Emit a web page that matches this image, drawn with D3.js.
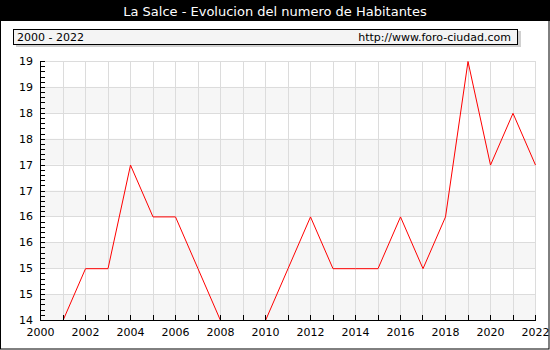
<!DOCTYPE html>
<html>
<head>
<meta charset="utf-8">
<script src="https://cdn.jsdelivr.net/npm/d3@7"></script>
<style>
  html, body { margin: 0; padding: 0; background: #fff; }
  svg { display: block; }
  text { font-family: "DejaVu Sans", Verdana, sans-serif; }
</style>
</head>
<body>
<svg id="chart" width="550" height="350"></svg>
<script>
const title = "La Salce - Evolucion del numero de Habitantes";
const subtitleLeft = "2000 - 2022";
const subtitleRight = "http://www.foro-ciudad.com";
const years = [2000, 2001, 2002, 2003, 2004, 2005, 2006, 2007, 2008, 2009, 2010, 2011, 2012, 2013, 2014, 2015, 2016, 2017, 2018, 2019, 2020, 2021, 2022];
const population = [14, 14, 15, 15, 17, 16, 16, 15, 14, 14, 14, 15, 16, 15, 15, 15, 16, 15, 16, 19, 17, 18, 17];
const xTickLabels = [2000, 2002, 2004, 2006, 2008, 2010, 2012, 2014, 2016, 2018, 2020, 2022];
const yTicks = [14, 14.5, 15, 15.5, 16, 16.5, 17, 17.5, 18, 18.5, 19];
const yTickLabels = ["14", "15", "15", "16", "16", "17", "17", "18", "18", "19", "19"];

const svg = d3.select("#chart");
const W = 550, H = 350;
const m = {left: 40, right: 535, top: 61, bottom: 320};

const x = d3.scaleLinear().domain([2000, 2022]).range([m.left, m.right]);
const y = d3.scaleLinear().domain([14, 19]).range([m.bottom, m.top]);

// background
svg.append("rect").attr("x", 0).attr("y", 0).attr("width", W).attr("height", H).attr("fill", "#fff");

// title band
svg.append("rect").attr("x", 0).attr("y", 0).attr("width", W).attr("height", 21).attr("fill", "#000");
svg.append("text").attr("x", W / 2).attr("y", 16).attr("text-anchor", "middle")
  .attr("fill", "#fff").attr("font-size", 13).text(title);

// subtitle box with shadow
svg.append("rect").attr("x", 16).attr("y", 31).attr("width", 505).attr("height", 16).attr("fill", "#d0d0d0");
svg.append("rect").attr("x", 13.5).attr("y", 29.5).attr("width", 504).attr("height", 15)
  .attr("fill", "#f4f4f4").attr("stroke", "#000").attr("stroke-width", 1);
svg.append("text").attr("x", 17).attr("y", 41).attr("font-size", 11).attr("fill", "#000").text(subtitleLeft);
svg.append("text").attr("x", 511).attr("y", 41).attr("text-anchor", "end").attr("font-size", 11).attr("fill", "#000").text(subtitleRight);

// alternating bands
const bands = [14, 15, 16, 17, 18];
svg.append("g").selectAll("rect").data(bands).join("rect")
  .attr("x", m.left).attr("width", m.right - m.left)
  .attr("y", d => y(d + 0.5)).attr("height", d => y(d) - y(d + 0.5))
  .attr("fill", "#f6f6f6");

// grid
const grid = svg.append("g").attr("stroke", "#dcdcdc").attr("stroke-width", 1).attr("shape-rendering", "crispEdges");
grid.selectAll("line.h").data(yTicks).join("line").attr("class", "h")
  .attr("x1", m.left).attr("x2", m.right).attr("y1", d => Math.round(y(d)) + 0.5).attr("y2", d => Math.round(y(d)) + 0.5);
grid.selectAll("line.v").data(years).join("line").attr("class", "v")
  .attr("y1", m.top).attr("y2", m.bottom).attr("x1", d => Math.round(x(d)) + 0.5).attr("x2", d => Math.round(x(d)) + 0.5);

// data line
const line = d3.line().x((d, i) => x(years[i])).y(d => y(d));
svg.append("path").datum(population).attr("d", line)
  .attr("transform", "translate(0.5,0.5)")
  .attr("fill", "none").attr("stroke", "#ff0000").attr("stroke-width", 1);

// x axis
const xAxis = d3.axisBottom(x).tickValues(xTickLabels).tickFormat(d3.format("d")).tickSize(0).tickPadding(8);
const gx = svg.append("g").attr("transform", `translate(0,${m.bottom})`).call(xAxis);
gx.select(".domain").attr("stroke", "#000").attr("stroke-width", 1).attr("shape-rendering", "crispEdges");
gx.selectAll("text").attr("font-size", 11).attr("font-family", "DejaVu Sans, Verdana, sans-serif").attr("fill", "#000");
// x ticks pointing up, every year
svg.append("g").selectAll("line").data(years).join("line")
  .attr("x1", d => Math.round(x(d)) + 0.5).attr("x2", d => Math.round(x(d)) + 0.5)
  .attr("y1", m.bottom).attr("y2", m.bottom - 5).attr("stroke", "#000");

// y axis
const yAxis = d3.axisLeft(y).tickValues(yTicks).tickFormat((d, i) => yTickLabels[i]).tickSize(0).tickPadding(7);
const gy = svg.append("g").attr("transform", `translate(${m.left},0)`).call(yAxis);
gy.select(".domain").attr("stroke", "#000").attr("shape-rendering", "crispEdges");
gy.selectAll("text").attr("font-size", 11).attr("font-family", "DejaVu Sans, Verdana, sans-serif").attr("fill", "#000");
// minor ticks every 0.1, pointing right
const minor = d3.range(0, 51).map(i => 14 + i * 0.1);
svg.append("g").selectAll("line").data(minor).join("line")
  .attr("x1", m.left).attr("x2", m.left + 5)
  .attr("y1", d => Math.round(y(d)) + 0.5).attr("y2", d => Math.round(y(d)) + 0.5)
  .attr("stroke", "#000");

// outer frame
svg.append("rect").attr("x", 0.5).attr("y", 0.5).attr("width", W - 1.5).attr("height", H - 1.5)
  .attr("fill", "none").attr("stroke", "#000").attr("stroke-width", 1);
</script>
</body>
</html>
